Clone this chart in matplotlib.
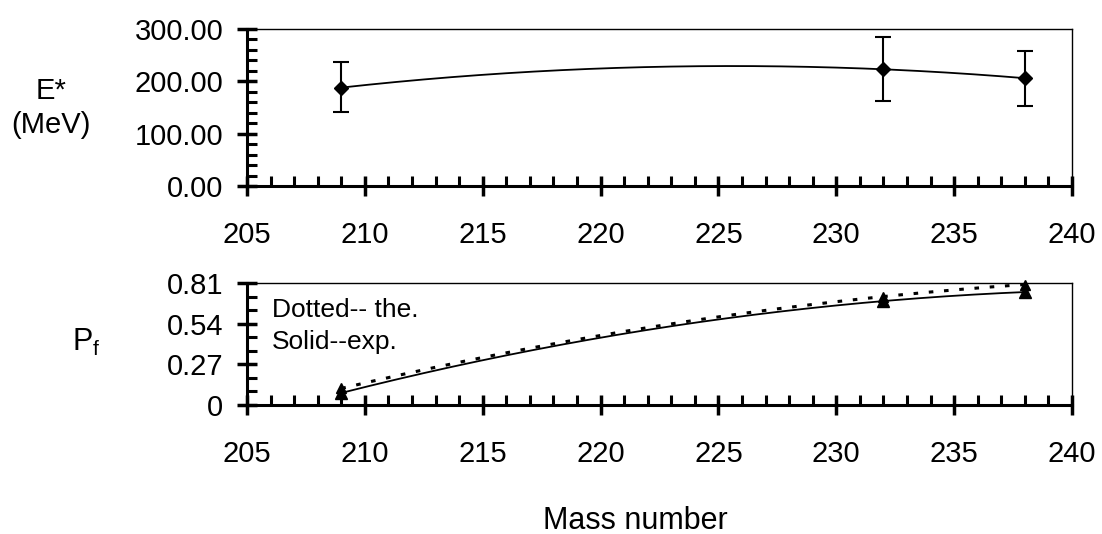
import numpy as np
import matplotlib
matplotlib.use("Agg")
import matplotlib.pyplot as plt
from matplotlib.ticker import MultipleLocator, FixedLocator

plt.rcParams['font.family'] = ['Liberation Sans', 'DejaVu Sans']
plt.rcParams['mathtext.default'] = 'regular'

# data
mass = [209, 232, 238]
e_star = [188, 223, 206]          # MeV
e_err_lo = [46, 60, 54]
e_err_hi = [48, 62, 52]
pf_exp = [0.08, 0.69, 0.75]       # solid
pf_the = [0.11, 0.72, 0.80]       # dotted

x_ticks = [205, 210, 215, 220, 225, 230, 235, 240]
e_ticks = [0, 100, 200, 300]
pf_ticks = [0, 0.27, 0.54, 0.81]
pf_tick_labels = ["0", "0.27", "0.54", "0.81"]


def trend(xs, ys):
    # 2nd order polynomial trend line through the points (as in the spreadsheet)
    c = np.polyfit(xs, ys, 2)
    xx = np.linspace(min(xs), max(xs), 200)
    return xx, np.polyval(c, xx)


W, H = 1102, 534
fig = plt.figure(figsize=(W / 100, H / 100), dpi=100)

left = 247 / W
width = (1072 - 247) / W
ax1 = fig.add_axes([left, 1 - 186 / H, width, (186 - 29) / H])
ax2 = fig.add_axes([left, 1 - 405 / H, width, (405 - 283) / H])

tick_fs = 21


def style(ax):
    for s in ['left', 'bottom']:
        ax.spines[s].set_linewidth(2.2)
    for s in ['top', 'right']:
        ax.spines[s].set_linewidth(1.0)
    ax.set_xlim(205, 240)
    ax.xaxis.set_major_locator(FixedLocator(x_ticks))
    ax.xaxis.set_minor_locator(MultipleLocator(1))
    ax.tick_params(axis='x', which='major', direction='inout', length=14, width=2.5,
                   pad=18.5, labelsize=tick_fs)
    ax.tick_params(axis='y', which='major', direction='inout', length=14, width=2.5,
                   pad=10, labelsize=tick_fs)
    ax.tick_params(which='minor', direction='in', length=7, width=2.2)
    ax.tick_params(top=False, right=False, which='both')


# top: excitation energy
style(ax1)
ax1.set_ylim(0, 300)
ax1.yaxis.set_major_locator(FixedLocator(e_ticks))
ax1.yaxis.set_minor_locator(MultipleLocator(20))
ax1.set_yticklabels(["%.2f" % v for v in e_ticks])
tx, ty = trend(mass, e_star)
ax1.plot(tx, ty, color='black', lw=1.3)
ax1.errorbar(mass, e_star, yerr=[e_err_lo, e_err_hi], fmt='D', color='black',
             ms=7, elinewidth=1.5, capsize=6, capthick=1.5, clip_on=False)

# bottom: fission probability
style(ax2)
ax2.set_ylim(0, 0.81)
ax2.yaxis.set_major_locator(FixedLocator(pf_ticks))
ax2.yaxis.set_minor_locator(MultipleLocator(0.09))
ax2.set_yticklabels(pf_tick_labels)
tx, ty = trend(mass, pf_exp)
ax2.plot(tx, ty, color='black', lw=1.3)
tx, ty = trend(mass, pf_the)
ax2.plot(tx, ty, color='black', lw=2.2, linestyle=(0, (1.5, 3.5)))
ax2.plot(mass, pf_exp, '^', color='black', ms=8, clip_on=False)
ax2.plot(mass, pf_the, '^', color='black', ms=7, clip_on=False)

ax2.text(0.030, 0.78, "Dotted-- the.", transform=ax2.transAxes, fontsize=19, va='center')
ax2.text(0.030, 0.52, "Solid--exp.", transform=ax2.transAxes, fontsize=19, va='center')

# axis titles
fig.text(51 / W, 1 - 108 / H, "E*\n(MeV)", ha='center', va='center', fontsize=21,
         linespacing=1.25)
fig.text(72 / W, 1 - 342 / H, "P$_f$", ha='left', va='center', fontsize=22)
fig.text(635 / W, 1 - 521 / H, "Mass number", ha='center', va='center', fontsize=22)

fig.savefig("out.png", dpi=100)
